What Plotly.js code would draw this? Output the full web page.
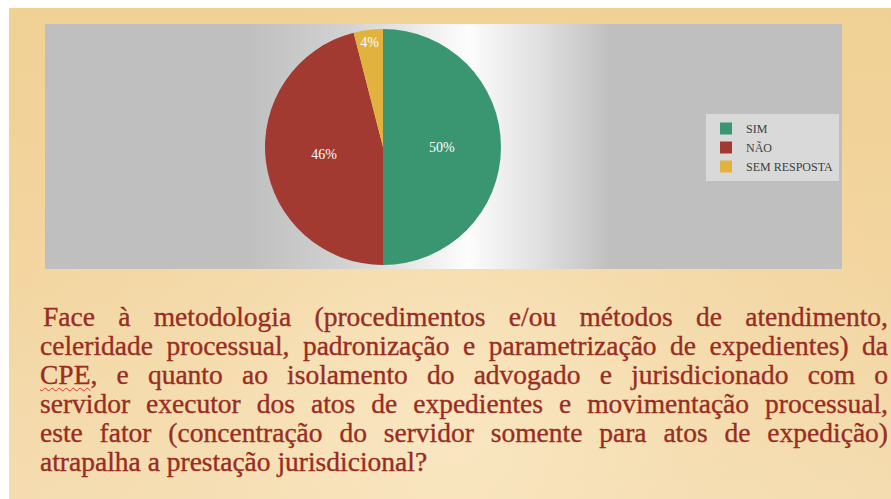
<!DOCTYPE html>
<html>
<head>
<meta charset="utf-8">
<script src="https://cdn.plot.ly/plotly-3.0.1.min.js"></script>
<style>
  html, body { margin: 0; padding: 0; width: 891px; height: 499px; overflow: hidden; background: #ffffff; }
  #slide {
    position: absolute; left: 9px; top: 8px; width: 882px; height: 491px;
    background:
      radial-gradient(ellipse at 50% 85%, rgba(250,232,196,0.85) 0%, rgba(248,226,185,0.4) 40%, rgba(243,214,160,0) 75%),
      linear-gradient(180deg, #f0d195 0%, #f2d59f 50%, #f4dcb0 100%);
  }
  #panel {
    position: absolute; left: 45px; top: 24px; width: 797px; height: 245px;
    background: linear-gradient(90deg, #bfbfbf 0%, #bfbfbf 25%, #d2d2d2 38%, #fdfdfd 53%, #e0e0e0 62%, #bfbfbf 71%, #bfbfbf 100%);
  }
  #chart { position: absolute; left: 0; top: 0; width: 891px; height: 499px; }
  #question {
    position: absolute; left: 40px; top: 302px; width: 848px;
    font-family: "Liberation Serif", serif;
    font-size: 27.5px; line-height: 29px; color: #982d23;
    -webkit-text-stroke: 0.35px #982d23;
  }
  #question .ln { text-align: justify; text-align-last: justify; white-space: nowrap; }
  #question .ln.first { padding-left: 3px; }
  #question .ln.last { text-align-last: left; }
  .spell { text-decoration: underline wavy #e03030; text-decoration-thickness: 1px; text-underline-offset: 3px; }
</style>
</head>
<body>
<div id="slide"></div>
<div id="panel"></div>
<div id="chart"></div>
<div id="question">
  <div class="ln first">Face à metodologia (procedimentos e/ou métodos de atendimento,</div>
  <div class="ln">celeridade processual, padronização e parametrização de expedientes) da</div>
  <div class="ln"><span class="spell">CPE</span>, e quanto ao isolamento do advogado e jurisdicionado com o</div>
  <div class="ln">servidor executor dos atos de expedientes e movimentação processual,</div>
  <div class="ln">este fator (concentração do servidor somente para atos de expedição)</div>
  <div class="ln last">atrapalha a prestação jurisdicional?</div>
</div>
<script>
const categories = ["SIM", "NÃO", "SEM RESPOSTA"];
const values = [50, 46, 4];
const colors = ["#3a9571", "#a33a31", "#e2b23e"];

const trace = {
  type: "pie",
  labels: categories,
  values: values,
  sort: false,
  direction: "clockwise",
  rotation: 0,
  marker: { colors: colors, line: { width: 0 } },
  texttemplate: "%{percent:.0%}",
  textposition: "inside",
  insidetextorientation: "horizontal",
  textfont: { family: "Liberation Serif, serif", size: 14, color: "#ffffff" },
  hoverinfo: "label+percent",
  domain: { x: [265/891, 501/891], y: [(499-265)/499, (499-29)/499] }
};

const layout = {
  width: 891, height: 499,
  margin: { l: 0, r: 0, t: 0, b: 0 },
  paper_bgcolor: "rgba(0,0,0,0)",
  plot_bgcolor: "rgba(0,0,0,0)",
  showlegend: true,
  legend: {
    x: 706/891, y: (499-114)/499, xanchor: "left", yanchor: "top",
    bgcolor: "#d9d9d9",
    font: { family: "Liberation Serif, serif", size: 12, color: "#404040" },
    tracegroupgap: 0, itemwidth: 30
  }
};

Plotly.newPlot("chart", [trace], layout, { displayModeBar: false, staticPlot: true });
</script>
</body>
</html>
